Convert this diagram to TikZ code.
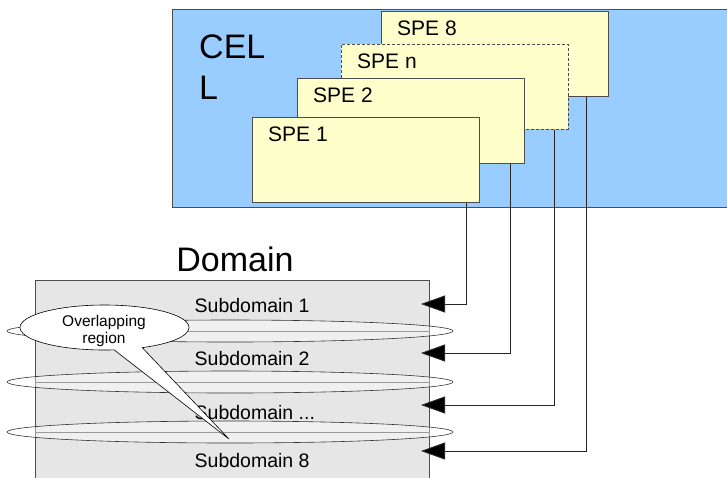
\documentclass[tikz,border=0pt]{standalone}
\usepackage{fontspec}
\setmainfont{Liberation Sans}
\usetikzlibrary{arrows.meta,shapes.callouts}

\definecolor{cellblue}{HTML}{99CCFF}
\definecolor{speyellow}{HTML}{FFFFCC}
\definecolor{domgray}{HTML}{E6E6E6}

\begin{document}
\begin{tikzpicture}[x=1pt,y=-1pt,
    box/.style={draw=black!70,line width=0.8pt,inner sep=0pt,anchor=north west},
    spe/.style={box,fill=speyellow,minimum width=227pt,minimum height=85pt},
    spetext/.style={anchor=west,inner sep=0pt,font=\fontsize{21}{25}\selectfont},
    subtext/.style={anchor=west,inner sep=0pt,font=\fontsize{19.5}{23}\selectfont},
    link/.style={draw=black!85,line width=0.9pt,-{Triangle[length=24pt,width=17pt,fill=black]}}]
    \useasboundingbox (0,0) rectangle (727,477);
    % CELL
    \node[box,fill=cellblue,minimum width=560pt,minimum height=198pt] (cell) at (172,9) {};
    \node[anchor=north west,inner sep=0pt,align=left,font=\fontsize{34}{40.7}\selectfont] (celltext) at (199,35) {CEL\\L};
    % SPEs, back to front
    \node[spe] (spe8) at (381,11) {};
    \node[spetext] (t8) at ([shift={(16,17.5)}]spe8.north west) {SPE 8};
    \node[spe,dash pattern=on 3pt off 2pt] (spen) at (341,44) {};
    \node[spetext] (tn) at ([shift={(16,17.5)}]spen.north west) {SPE n};
    \node[spe] (spe2) at (297,78) {};
    \node[spetext] (t2) at ([shift={(16,17.5)}]spe2.north west) {SPE 2};
    \node[spe] (spe1) at (252,117) {};
    \node[spetext] (t1) at ([shift={(16,17.5)}]spe1.north west) {SPE 1};
    % Domain
    \node[inner sep=0pt,font=\fontsize{34}{40}\selectfont] (domtext) at (235,259) {Domain};
    \node[box,fill=domgray,minimum width=394pt,minimum height=210pt] (dom) at (35,280) {};
    \foreach \y in {331,382,432} {
        \draw[black!80,line width=0.6pt,fill=white,fill opacity=0.4] (230,\y) ellipse [x radius=223,y radius=11];
        \draw[black!40,line width=0.8pt] (dom.west |- 0,\y) -- (dom.east |- 0,\y);
    }
    \node[subtext] (sub1) at (194.5,306) {Subdomain 1};
    \node[subtext] (sub2) at (194.5,358.5) {Subdomain 2};
    \node[subtext] (subx) at (194.5,412.5) {Subdomain ...};
    \node[subtext] (sub8) at (194.5,461) {Subdomain 8};
    % SPE -> subdomain
    \coordinate (a1) at (421,304);
    \coordinate (a2) at (421,353);
    \coordinate (a3) at (421,405);
    \coordinate (a4) at (421,451);
    \draw[link] ([xshift=-13pt]spe1.south east) |- (a1);
    \draw[link] ([xshift=-14pt]spe2.south east) |- (a2);
    \draw[link] ([xshift=-14pt]spen.south east) |- (a3);
    \draw[link] ([xshift=-22pt]spe8.south east) |- (a4);
    % callout
    \coordinate (tip) at (229,439);
    \node[ellipse callout,draw=black,line width=0.6pt,fill=white,minimum width=169pt,minimum height=45pt,inner sep=0pt,
        callout absolute pointer={(tip)},callout pointer arc=20] (note) at (104.5,327.5) {};
    \node[align=center,inner sep=0pt,font=\fontsize{15.5}{17}\selectfont] (notetext) at (104,331) {Overlapping\\region};
\end{tikzpicture}
\end{document}
